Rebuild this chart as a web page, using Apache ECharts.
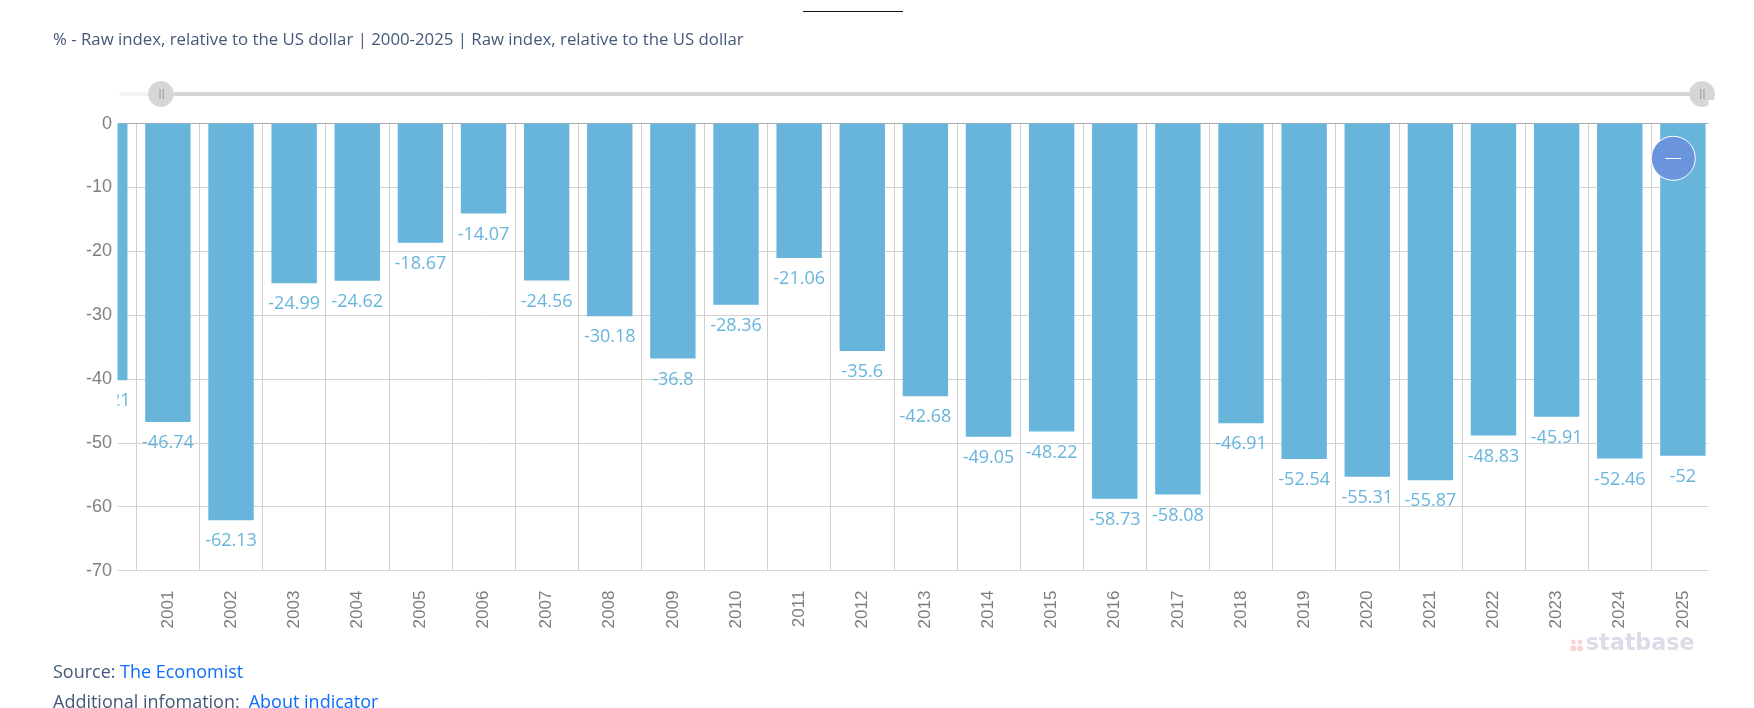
<!DOCTYPE html>
<html><head><meta charset="utf-8">
<script src="https://cdn.jsdelivr.net/npm/echarts@6/dist/echarts.min.js"></script>
<style>html,body{margin:0;padding:0;background:#fff}#c{width:1754px;height:708px}</style>
</head><body><div id="c"></div>
<script>
const years=['2000','2001','2002','2003','2004','2005','2006','2007','2008','2009','2010','2011','2012','2013','2014','2015','2016','2017','2018','2019','2020','2021','2022','2023','2024','2025'];
const values=[-40.21,-46.74,-62.13,-24.99,-24.62,-18.67,-14.07,-24.56,-30.18,-36.8,-28.36,-21.06,-35.6,-42.68,-49.05,-48.22,-58.73,-58.08,-46.91,-52.54,-55.31,-55.87,-48.83,-45.91,-52.46,-52];
const yTicks={min:-70,max:0,interval:10};
const chart=echarts.init(document.getElementById('c'));
const uiFont='"Open Sans","Noto Sans",sans-serif';
const ink='#44597a', link='#0d6efd', mask='#fff';
const text=(left,top,t,fill,size,weight,family)=>({type:'text',left,top,silent:true,z:30,style:{text:t,fill,font:(weight||'normal')+' '+size+'px '+(family||uiFont)}});
const cover=(left,width)=>({type:'rect',left,top:100,shape:{width,height:540},style:{fill:mask},silent:true,z:10});
const dot=(cx,cy,r)=>({type:'circle',shape:{cx,cy,r},style:{fill:'#fbd3d6'},silent:true,z:30});
const bar=(x,y)=>({type:'rect',shape:{x,y,width:1.4,height:10},style:{fill:'#a8a8a8'},silent:true,z:60});
chart.setOption({
 animation:false,
 grid:[{left:73.2,width:1641.25,top:123.6,height:447},{left:118,width:100,top:700,height:1,show:false}],
 xAxis:[{type:'category',data:years,position:'bottom',
   axisLine:{onZero:false,lineStyle:{color:'#d4d4d4'}},axisTick:{show:false},
   splitLine:{show:true,lineStyle:{color:'#d0d0d0'}},
   axisLabel:{rotate:90,interval:0,color:'#7c7c7c',fontFamily:'"Liberation Sans"',fontSize:17,margin:20,hideOverlap:false}},
  {type:'category',data:years,position:'top',
   axisLine:{onZero:false,lineStyle:{color:'#aaa'}},axisTick:{show:false},axisLabel:{show:false},splitLine:{show:false}},
  {type:'value',gridIndex:1,min:0,max:100,show:false}],
 yAxis:[{type:'value',min:yTicks.min,max:yTicks.max,interval:yTicks.interval,
   axisLine:{show:false},axisTick:{show:false},
   splitLine:{lineStyle:{color:'#d4d4d4'}},axisLabel:{show:false}},
  {type:'value',gridIndex:1,show:false},
  {type:'value',min:yTicks.min,max:yTicks.max,interval:yTicks.interval,position:'left',z:20,offset:-44.8,
   axisLine:{show:false},axisTick:{show:false},splitLine:{show:false},
   axisLabel:{color:'#808080',fontFamily:'"Liberation Sans"',fontSize:18,margin:6}}],
 dataZoom:[{type:'slider',xAxisIndex:2,filterMode:'none',start:2.55,end:100,
   left:118,width:1583.5,top:92,height:4,
   showDetail:false,showDataShadow:false,brushSelect:false,
   backgroundColor:'#f3f3f3',fillerColor:'#d6d6d6',borderColor:'transparent',
   moveHandleSize:0,handleSize:25,
   handleIcon:'circle',
   handleStyle:{color:'#d6d6d6',borderColor:'#d6d6d6'}}],
 series:[{type:'bar',data:values,barWidth:45.4,
   itemStyle:{color:'#68b5dc'},
   label:{show:true,position:'bottom',distance:12,color:'#68b5dc',fontFamily:uiFont,fontSize:18}},
  {type:'line',xAxisIndex:2,yAxisIndex:1,data:[]}],
 graphic:[
  cover(40,77.5),cover(1708.5,30),
  {type:'rect',left:803,top:11,shape:{width:100,height:1},style:{fill:'#111'},silent:true},
  text(53,31.6,'% - Raw index, relative to the US dollar | 2000-2025 | Raw index, relative to the US dollar',ink,16.8),
  text(53,664,'Source: ',ink,18),
  text(120,664,'The Economist',link,18),
  text(53,694,'Additional infomation: ',ink,18),
  text(248.7,694,'About indicator',link,18),
  bar(159.3,89),bar(162.6,89),bar(1700,89),bar(1703.3,89),
  {type:'circle',shape:{cx:1673.3,cy:158.3,r:22},style:{fill:'#6a94dc',stroke:'#fff',lineWidth:1},silent:true,z:50},
  {type:'line',shape:{x1:1665.3,y1:158.5,x2:1681,y2:158.5},style:{stroke:'#fff',lineWidth:1},silent:true,z:51},
  dot(1573.3,642,2.4),dot(1580,642,2.4),dot(1573.3,648.5,3),dot(1580,648.5,3),
  text(1585.7,633,'statbase','#dcdce8',22.3,'bold','"DejaVu Sans"')
 ]
});
</script></body></html>
